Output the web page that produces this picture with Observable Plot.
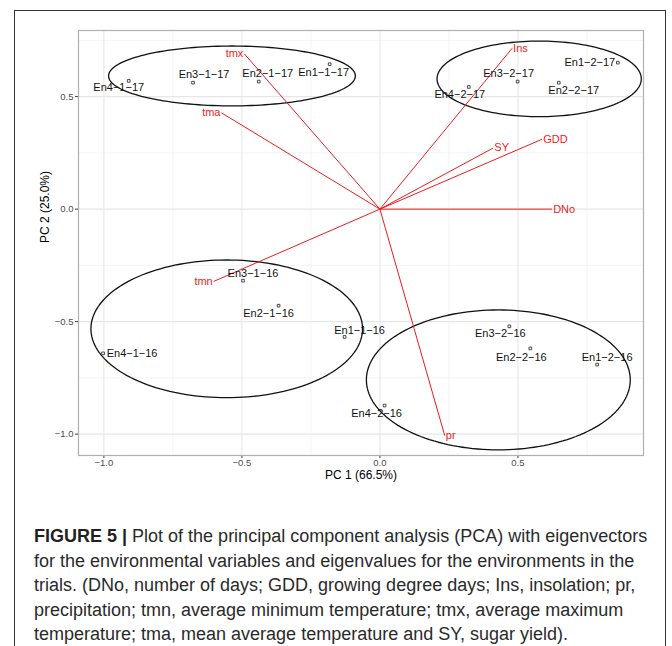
<!DOCTYPE html>
<html><head><meta charset="utf-8">
<script src="https://cdn.jsdelivr.net/npm/d3@7"></script>
<script src="https://cdn.jsdelivr.net/npm/@observablehq/plot@0.6"></script>
<style>
body{margin:0;background:#fff;}
#wrap{position:relative;width:672px;height:646px;overflow:hidden;background:#fff;}
#frame{position:absolute;left:14px;top:10px;width:652px;height:700px;border:1.5px solid #333;box-sizing:border-box;}
#chart{position:absolute;left:0;top:0;}
#caption{position:absolute;left:34px;top:524px;width:625px;font-size:18px;line-height:24.5px;color:#2a2a2a;font-family:"Liberation Sans",Arial,sans-serif;}
#caption b{font-weight:bold;color:#231f20;}
</style></head>
<body>
<div id="wrap"><div id="frame"></div><div id="chart"></div>
<div id="caption"><b>FIGURE 5 |</b><span> Plot of the principal component analysis (PCA) with eigenvectors for the environmental variables and eigenvalues for the environments in the trials. (DNo, number of days; GDD, growing degree days; Ins, insolation; pr, precipitation; tmn, average minimum temperature; tmx, average maximum temperature; tma, mean average temperature and SY, sugar yield).</span></div>
</div>
<script>
// Environments (individuals)
const envLabels = ["En4−1−17","En3−1−17","En2−1−17","En1−1−17","En1−2−17","En3−2−17","En4−2−17","En2−2−17",
  "En3−1−16","En2−1−16","En4−1−16","En1−1−16","En3−2−16","En2−2−16","En1−2−16","En4−2−16"];
const envPC1 = [-0.910,-0.677,-0.439,-0.182,0.862,0.499,0.322,0.648,-0.496,-0.367,-1.003,-0.128,0.469,0.545,0.787,0.017];
const envPC2 = [0.570,0.562,0.567,0.644,0.651,0.567,0.543,0.562,-0.318,-0.429,-0.641,-0.568,-0.521,-0.619,-0.691,-0.873];

// Variables (eigenvectors)
const varLabels = ["DNo","GDD","Ins","pr","tmn","tmx","tma","SY"];
const varPC1 = [0.624,0.588,0.479,0.235,-0.602,-0.491,-0.574,0.411];
const varPC2 = [0.000,0.311,0.715,-1.007,-0.321,0.690,0.428,0.272];

// Group ellipses (centre and semi-axes)
const groupNames = ["1-17","2-17","1-16","2-16"];
const groupCx = [-0.536,0.577,-0.555,0.429];
const groupCy = [0.592,0.579,-0.532,-0.759];
const groupRx = [0.447,0.370,0.492,0.478];
const groupRy = [0.133,0.168,0.306,0.311];

// Ticks
const majorTicks = [-1.0,-0.5,0.0,0.5];
const minorTicks = [-0.75,-0.25,0.25,0.75];
const xTitle = "PC 1 (66.5%)";
const yTitle = "PC 2 (25.0%)";

// label nudges (px), like ggrepel placement
const nudge = {
  "En4−1−17":[-10,7],"En3−1−17":[11,-8],"En2−1−17":[9,-8],"En1−1−17":[-6,8],
  "En1−2−17":[-28,0],"En3−2−17":[-9,-8],"En4−2−17":[-9,7],"En2−2−17":[15,8],
  "En3−1−16":[10,-7],"En2−1−16":[-10,8],"En4−1−16":[29,0],"En1−1−16":[15,-6],
  "En3−2−16":[-9,7],"En2−2−16":[-9,9],"En1−2−16":[10,-7],"En4−2−16":[-8,8]
};

const envs = envLabels.map((l,i)=>({label:l,x:envPC1[i],y:envPC2[i]}));
const vars = varLabels.map((l,i)=>({label:l,x:varPC1[i],y:varPC2[i]}));
const ell = [];
groupNames.forEach((g,i)=>{
  for(let k=0;k<=160;k++){
    const t = 2*Math.PI*k/160;
    ell.push({g, x:groupCx[i]+groupRx[i]*Math.cos(t), y:groupCy[i]+groupRy[i]*Math.sin(t)});
  }
});
const fmt = d => d3.format(".1f")(d).replace("-","−");
const font = "Liberation Sans, Arial, sans-serif";

const chart = Plot.plot({
  width:672, height:490,
  marginLeft:78, marginRight:29, marginTop:30, marginBottom:35,
  x:{domain:[-1.092,0.955]},
  y:{domain:[-1.095,0.794]},
  style:{fontFamily:font, background:"transparent", color:"#000"},
  marks:[
    Plot.gridX(minorTicks,{stroke:"#ebebeb",strokeOpacity:1,strokeWidth:0.6}),
    Plot.gridY(minorTicks,{stroke:"#ebebeb",strokeOpacity:1,strokeWidth:0.6}),
    Plot.gridX(majorTicks,{stroke:"#e6e6e6",strokeOpacity:1,strokeWidth:1.1}),
    Plot.gridY(majorTicks,{stroke:"#e6e6e6",strokeOpacity:1,strokeWidth:1.1}),
    Plot.axisX(majorTicks,{tickSize:3,tickPadding:1,tickFormat:fmt,fontSize:9.5,fill:"#4d4d4d",stroke:"#333",label:null}),
    Plot.axisY(majorTicks,{tickSize:3,tickPadding:2,tickFormat:fmt,fontSize:9.5,fill:"#4d4d4d",stroke:"#333",label:null}),
    Plot.frame({stroke:"#b0b0b0",strokeWidth:1.2}),
    Plot.line(ell,{x:"x",y:"y",z:"g",stroke:"#111",strokeWidth:1.3,curve:"linear"}),
    Plot.link(vars,{x1:d=>0,y1:d=>0,x2:"x",y2:"y",stroke:"#ee1c1c",strokeWidth:1}),
    Plot.text(vars.filter(d=>d.x>=0),{x:"x",y:"y",text:"label",textAnchor:"start",dx:1,fill:"#ee1c1c",fontSize:11}),
    Plot.text(vars.filter(d=>d.x<0),{x:"x",y:"y",text:"label",textAnchor:"end",dx:-1,fill:"#ee1c1c",fontSize:11}),
    Plot.dot(envs,{x:"x",y:"y",symbol:"square",r:1.5,stroke:"#222",strokeWidth:0.8,fill:"white"}),
    ...envs.map(d=>Plot.text([d],{x:"x",y:"y",text:"label",dx:nudge[d.label][0],dy:nudge[d.label][1],fontSize:11,fill:"#111"})),
    Plot.text([xTitle],{frameAnchor:"bottom",dy:23,fontSize:12,fill:"#000"}),
    Plot.text([yTitle],{frameAnchor:"left",rotate:-90,dx:-33,fontSize:12,fill:"#000"})
  ]
});
document.getElementById("chart").appendChild(chart);
</script>
</body></html>
